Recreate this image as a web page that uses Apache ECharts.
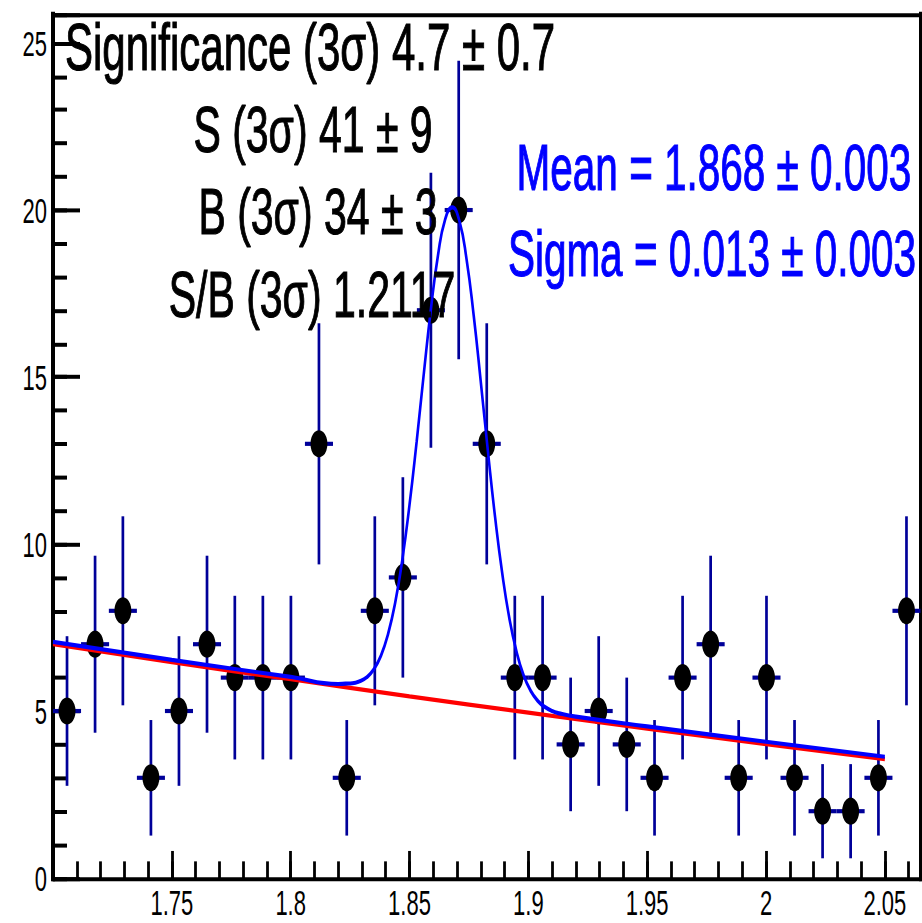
<!DOCTYPE html>
<html>
<head>
<meta charset="utf-8">
<script src="https://cdn.jsdelivr.net/npm/echarts@6/dist/echarts.min.js"></script>
<style>
  html { margin: 0; padding: 0; background: #fff; overflow: hidden; }
  body { margin: 0; padding: 0; background: #fff; width: 922px; height: 923px; }
  /* The chart is drawn in a compressed frame and stretched vertically,
     giving the tall, narrow lettering and elliptical markers of the plot. */
  #chart { width: 922px; height: 577px; transform: scaleY(1.6); transform-origin: 0 0; }
</style>
</head>
<body>
<div id="chart"></div>
<script>
// Invariant-mass histogram: bin centres, entries and Poisson errors
const binCenters = [1.7059, 1.7177, 1.7294, 1.7412, 1.7530, 1.7648, 1.7765, 1.7883, 1.8001, 1.8119,
                    1.8236, 1.8354, 1.8472, 1.8590, 1.8707, 1.8825, 1.8943, 1.9060, 1.9178, 1.9296,
                    1.9414, 1.9531, 1.9649, 1.9767, 1.9885, 2.0002, 2.0120, 2.0238, 2.0356, 2.0473, 2.0591];
const counts = [5, 7, 8, 3, 5, 7, 6, 6, 6, 13,
                3, 8, 9, 17, 20, 13, 6, 6, 4, 5,
                4, 3, 6, 7, 3, 6, 3, 2, 2, 3, 8];
const countErrors = [2.24, 2.65, 2.83, 1.73, 2.24, 2.65, 2.45, 2.45, 2.45, 3.61,
                     1.73, 2.83, 3.00, 4.12, 4.47, 3.61, 2.45, 2.45, 2.00, 2.24,
                     2.00, 1.73, 2.45, 2.65, 1.73, 2.45, 1.73, 1.41, 1.41, 1.73, 2.83];
const binHalfWidth = 0.0059;

// Total fit (Gaussian signal + background), sampled along the curve
const fitX = [1.700, 1.750, 1.800, 1.820,
              1.823, 1.826, 1.829, 1.832, 1.835, 1.838, 1.841, 1.844, 1.847, 1.850,
              1.853, 1.856, 1.859, 1.862, 1.865, 1.868, 1.871, 1.874, 1.877, 1.880,
              1.883, 1.886, 1.889, 1.892, 1.895, 1.898, 1.901, 1.904, 1.907, 1.910, 1.913,
              1.920, 1.950, 2.000, 2.050];
const fitY = [7.07, 6.53, 6.02, 5.81,
              5.82, 5.83, 5.89, 6.01, 6.25, 6.66, 7.31, 8.25, 9.54, 11.17,
              13.06, 15.09, 17.03, 18.65, 19.72, 20.08, 19.67, 18.53, 16.85, 14.85,
              12.77, 10.81, 9.13, 7.78, 6.78, 6.07, 5.60, 5.30, 5.12, 5.00, 4.93,
              4.83, 4.54, 4.08, 3.63];

// Background component of the fit
const bkgX = [1.70, 1.75, 1.80, 1.85, 1.90, 1.95, 2.00, 2.05];
const bkgY = [7.00, 6.46, 5.95, 5.44, 4.95, 4.47, 4.01, 3.56];

// Axis tick labels
const xTickValues = [1.75, 1.80, 1.85, 1.90, 1.95, 2.00, 2.05];
const xTickLabels = ['1.75', '1.8', '1.85', '1.9', '1.95', '2', '2.05'];
const yTickValues = [0, 5, 10, 15, 20, 25];
const yTickLabels = ['0', '5', '10', '15', '20', '25'];

// Fit summary text
const statLines = ['Significance (3\u03c3) 4.7 \u00b1 0.7', 'S (3\u03c3) 41 \u00b1 9',
                   'B (3\u03c3) 34 \u00b1 3', 'S/B (3\u03c3) 1.2117'];
const fitLines = ['Mean = 1.868 \u00b1 0.003', 'Sigma = 0.013 \u00b1 0.003'];

const X_MIN = 1.70, X_MAX = 2.065, Y_MIN = 0, Y_MAX = 25.84;
const FONT = '"Liberation Sans", Arial, Helvetica, sans-serif';
const ERR_COLOR = '#000099';

function pickLabel(values, labels) {
  return function (v) {
    const i = values.findIndex(t => Math.abs(t - v) < 1e-6);
    return i < 0 ? '' : labels[i];
  };
}

const chart = echarts.init(document.getElementById('chart'), null, { renderer: 'svg' });

const histPoints = binCenters.map((x, i) => [x, counts[i], countErrors[i]]);

function statText(x, y, text, color, size) {
  return {
    type: 'text', x: x, y: y, z: 10,
    style: { text: text, font: size + 'px ' + FONT, fill: color, stroke: color, lineWidth: 0.7,
             align: 'center', verticalAlign: 'middle' }
  };
}

const option = {
  animation: false,
  backgroundColor: '#ffffff',
  grid: { left: 53, right: 1.5, top: 9.375, bottom: 28.25, containLabel: false, outerBoundsMode: 'none' },
  xAxis: [
    {
      type: 'value', min: X_MIN, max: X_MAX, interval: 0.05, position: 'bottom',
      axisLine: { show: true, onZero: false, lineStyle: { color: '#000', width: 2.5, cap: 'square' } },
      axisTick: { show: true, inside: true, length: 16.9, lineStyle: { color: '#000', width: 2.8 } },
      axisLabel: { show: true, margin: 4, color: '#000', fontSize: 22, fontFamily: FONT,
                   formatter: pickLabel(xTickValues, xTickLabels) },
      splitLine: { show: false }
    },
    {
      type: 'value', min: X_MIN, max: X_MAX, interval: 0.01, position: 'bottom',
      axisLine: { show: false, onZero: false },
      axisTick: { show: true, inside: true, length: 10.4, lineStyle: { color: '#000', width: 2.8 } },
      axisLabel: { show: false }, splitLine: { show: false }
    },
    {
      type: 'value', min: X_MIN, max: X_MAX, position: 'top',
      axisLine: { show: true, onZero: false, lineStyle: { color: '#000', width: 2.5, cap: 'square' } },
      axisTick: { show: false }, axisLabel: { show: false }, splitLine: { show: false }
    }
  ],
  yAxis: [
    {
      type: 'value', min: Y_MIN, max: Y_MAX, interval: 5, position: 'left',
      axisLine: { show: true, onZero: false, lineStyle: { color: '#000', width: 4, cap: 'square' } },
      axisTick: { show: true, inside: true, length: 27, lineStyle: { color: '#000', width: 2.5 } },
      axisLabel: { show: true, margin: 6, color: '#000', fontSize: 22, fontFamily: FONT,
                   formatter: pickLabel(yTickValues, yTickLabels) },
      splitLine: { show: false }
    },
    {
      type: 'value', min: Y_MIN, max: Y_MAX, interval: 1, position: 'left',
      axisLine: { show: false, onZero: false },
      axisTick: { show: true, inside: true, length: 14, lineStyle: { color: '#000', width: 2.5 } },
      axisLabel: { show: false }, splitLine: { show: false }
    },
    {
      type: 'value', min: Y_MIN, max: Y_MAX, position: 'right',
      axisLine: { show: true, onZero: false, lineStyle: { color: '#000', width: 4, cap: 'square' } },
      axisTick: { show: false }, axisLabel: { show: false }, splitLine: { show: false }
    }
  ],
  series: [
    {
      // x and y error bars of every bin
      type: 'custom', xAxisIndex: 0, yAxisIndex: 0, z: 2,
      data: histPoints,
      renderItem: function (params, api) {
        const x = api.value(0), y = api.value(1), e = api.value(2);
        const c = api.coord([x, y]);
        const hi = api.coord([x, y + e]);
        const lo = api.coord([x, y - e]);
        const l = api.coord([x - binHalfWidth, y]);
        const r = api.coord([x + binHalfWidth, y]);
        return {
          type: 'group',
          children: [
            { type: 'line', shape: { x1: c[0], y1: hi[1], x2: c[0], y2: lo[1] },
              style: { stroke: ERR_COLOR, lineWidth: 2.7 } },
            { type: 'line', shape: { x1: l[0], y1: c[1], x2: r[0], y2: c[1] },
              style: { stroke: ERR_COLOR, lineWidth: 2.6 } }
          ]
        };
      }
    },
    {
      type: 'scatter', xAxisIndex: 0, yAxisIndex: 0, z: 3,
      symbol: 'circle', symbolSize: 17,
      itemStyle: { color: '#000', opacity: 1 },
      data: histPoints.map(p => [p[0], p[1]])
    },
    {
      type: 'line', xAxisIndex: 0, yAxisIndex: 0, z: 4,
      data: bkgX.map((x, i) => [x, bkgY[i]]),
      showSymbol: false, smooth: true,
      lineStyle: { color: '#ff0000', width: 2.6 }
    },
    {
      type: 'line', xAxisIndex: 0, yAxisIndex: 0, z: 5,
      data: fitX.map((x, i) => [x, fitY[i]]),
      showSymbol: false, smooth: 0.5,
      lineStyle: { color: '#0000ff', width: 2.6 }
    }
  ],
  graphic: [
    statText(310, 29.1, statLines[0], '#000', 42),
    statText(313, 80.6, statLines[1], '#000', 41),
    statText(318, 132.1, statLines[2], '#000', 41),
    statText(312, 183.8, statLines[3], '#000', 41),
    statText(714, 104.7, fitLines[0], '#0000ff', 40.5),
    statText(712, 158.4, fitLines[1], '#0000ff', 40.5)
  ]
};

chart.setOption(option);
</script>
</body>
</html>
